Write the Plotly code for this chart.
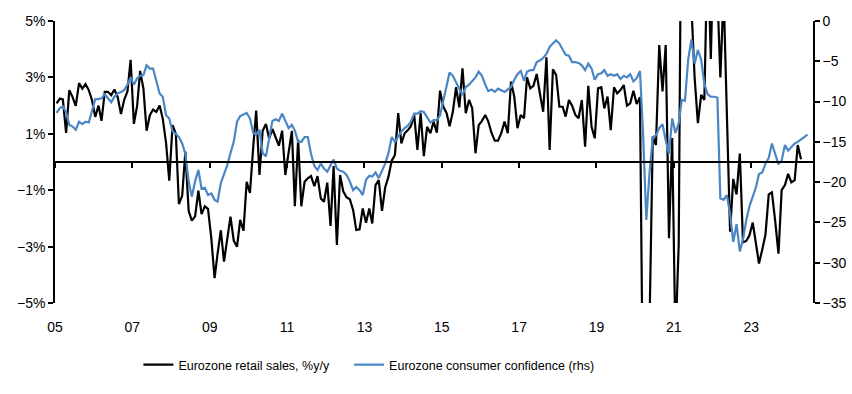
import pandas as pd
import plotly.graph_objects as go

# Eurozone retail sales, % y/y (monthly from Jan 2005)
retail_sales = [
    2.08, 2.25, 2.22, 1.03, 2.55, 2.30, 1.99, 2.80, 2.60, 2.76, 2.55, 2.20,   # 2005
    1.60, 2.00, 1.46, 2.49, 2.49, 2.37, 2.57, 2.30, 1.70, 2.20, 2.50, 3.62,   # 2006
    1.35, 2.00, 3.23, 2.60, 1.11, 1.66, 1.86, 1.78, 2.00, 1.53, 0.67, -0.66,  # 2007
    1.31, 1.00, -1.49, -1.20, 0.37, -1.73, -2.08, -1.93, -1.02, -1.85, -1.57, -1.66,  # 2008
    -2.70, -4.12, -3.26, -2.42, -3.53, -2.70, -1.94, -2.79, -3.00, -2.05, -2.44, -0.70,  # 2009
    -1.10, 0.54, 1.82, -0.46, 1.11, 1.35, 0.84, 1.17, 0.90, 0.58, 1.11, -0.46,  # 2010
    0.33, 1.10, -1.57, 0.80, -1.57, -0.70, -0.58, -0.50, -0.86, -0.50, -1.29, -1.41,  # 2011
    -0.73, -2.27, -0.14, -2.94, -0.46, -1.05, -1.25, -1.32, -1.70, -2.41, -2.39, -1.65,  # 2012
    -2.15, -1.65, -2.18, -0.82, -0.64, -1.73, -0.90, -0.52, 0.05, 0.25, 1.73, 0.66,  # 2013
    1.02, 1.13, 1.27, 1.67, 0.43, 1.73, 0.21, 1.25, 1.02, 1.43, 1.04, 2.53,   # 2014
    1.96, 1.73, 1.27, 1.78, 2.65, 1.94, 3.32, 1.73, 2.20, 1.90, 0.31, 1.31,   # 2015
    1.46, 1.67, 1.43, 1.02, 0.76, 0.76, 1.02, 1.43, 1.02, 2.85, 2.32, 1.20,   # 2016
    1.67, 1.55, 3.00, 2.61, 2.70, 3.12, 2.43, 1.78, 3.71, 0.43, 3.29, 3.09,   # 2017
    1.96, 1.96, 1.61, 2.20, 2.00, 1.67, 1.55, 2.20, 0.54, 2.70, 1.25, 0.84,   # 2018
    2.61, 2.65, 1.90, 2.32, 1.13, 2.65, 2.43, 2.55, 2.73, 2.00, 2.08, 2.53,   # 2019
    2.06, 2.30, -9.00, -20.00, -5.80, 0.90, 0.60, 4.15, 2.50, 4.15, -2.70, 0.85,  # 2020
    -6.40, -2.90, 12.00, 23.90, 9.00, 5.50, 3.00, 1.38, 2.38, 2.20, 7.80, 3.65,  # 2021
    8.40, 6.00, 3.00, 6.00, 1.80, -2.47, -0.60, -1.15, 0.30, -2.85, -2.80, -2.60,  # 2022
    -2.15, -2.90, -3.60, -3.10, -2.58, -1.15, -1.08, -2.10, -3.25, -1.00, -0.82, -0.42,  # 2023
    -0.72, -0.64, 0.60, 0.10,  # 2024
]

# Eurozone consumer confidence (rhs), monthly from Jan 2005
consumer_confidence = [
    -11.4, -10.8, -10.6, -11.3, -12.9, -13.1, -13.5, -12.5, -12.8, -12.5, -12.6, -11.1,  # 2005
    -9.7, -9.7, -9.6, -9.1, -9.6, -10.1, -9.4, -9.0, -8.8, -8.6, -7.9, -7.0,  # 2006
    -7.9, -7.1, -6.8, -6.7, -5.5, -5.9, -5.9, -7.3, -9.0, -9.4, -11.7, -12.1,  # 2007
    -13.7, -14.0, -14.4, -15.2, -16.5, -19.9, -21.8, -19.9, -18.5, -20.8, -20.7, -21.6,  # 2008
    -21.4, -22.2, -22.4, -20.1, -19.1, -17.9, -16.4, -15.0, -12.5, -11.8, -11.6, -11.4,  # 2009
    -12.1, -13.9, -14.1, -13.5, -16.4, -16.8, -14.6, -12.4, -12.2, -12.4, -11.5, -12.4,  # 2010
    -13.3, -12.9, -13.6, -15.0, -15.0, -14.4, -14.4, -16.5, -18.0, -18.5, -17.7, -18.3,  # 2011
    -18.7, -17.9, -17.2, -18.3, -18.6, -18.7, -19.1, -19.9, -21.0, -20.6, -21.0, -21.6,  # 2012
    -19.7, -19.2, -19.3, -18.8, -19.5, -18.6, -17.7, -16.4, -14.4, -15.0, -14.4, -13.7,  # 2013
    -13.3, -13.0, -12.5, -11.5, -11.5, -11.2, -11.3, -11.9, -12.6, -12.3, -12.3, -11.7,  # 2014
    -9.8, -7.7, -6.4, -6.8, -7.7, -8.4, -9.2, -8.2, -7.9, -7.5, -7.0, -6.3,  # 2015
    -6.8, -7.9, -8.7, -8.5, -8.8, -8.4, -8.6, -8.8, -8.5, -8.2, -7.3, -6.6,  # 2016
    -6.2, -7.4, -6.3, -6.1, -6.1, -5.1, -4.9, -4.6, -4.1, -3.2, -2.8, -2.4,  # 2017
    -2.8, -3.6, -4.2, -4.3, -5.1, -5.1, -5.2, -5.5, -6.1, -5.3, -5.9, -7.3,  # 2018
    -6.6, -6.5, -6.1, -6.8, -6.6, -6.8, -6.6, -7.2, -6.8, -7.0, -6.6, -7.5,  # 2019
    -7.1, -6.2, -13.9, -24.7, -18.9, -14.4, -14.2, -13.3, -12.8, -14.8, -16.5, -12.1,  # 2020
    -13.9, -12.7, -9.8, -9.9, -4.8, -2.3, -5.3, -3.6, -4.8, -7.8, -9.1, -9.4,  # 2021
    -9.4, -9.5, -22.0, -22.2, -21.6, -23.9, -27.4, -25.2, -28.6, -27.1, -24.7, -23.0,  # 2022
    -21.8, -20.6, -19.0, -18.8, -17.7, -17.0, -15.2, -16.6, -17.8, -17.3, -15.4, -16.1,  # 2023
    -15.6, -15.2, -15.0, -14.7, -14.4, -14.1,  # 2024
]

left_ticks = [-5, -3, -1, 1, 3, 5]
left_labels = ["\u22125%", "\u22123%", "\u22121%", "1%", "3%", "5%"]
right_ticks = [0, -5, -10, -15, -20, -25, -30, -35]

dates_rs = pd.date_range("2005-01-01", periods=len(retail_sales), freq="MS") + pd.Timedelta(days=15)
dates_cc = pd.date_range("2005-01-01", periods=len(consumer_confidence), freq="MS") + pd.Timedelta(days=15)

FONT = "Liberation Sans, Arial, sans-serif"
BLUE = "#4a86c5"
LEG_FONT = dict(family=FONT, size=12.5, color="black")

fig = go.Figure()
fig.add_trace(go.Scatter(x=dates_rs, y=retail_sales, mode="lines",
                         name="Eurozone retail sales, %y/y",
                         line=dict(color="black", width=2.2), yaxis="y",
                         legend="legend"))
fig.add_trace(go.Scatter(x=dates_cc, y=consumer_confidence, mode="lines",
                         name="Eurozone consumer confidence (rhs)",
                         line=dict(color=BLUE, width=2.2), yaxis="y2",
                         legend="legend2"))
# helper (empty) trace so the zero-line axis is drawn
fig.add_trace(go.Scatter(x=[dates_rs[0]], y=[None], xaxis="x2", yaxis="y",
                         showlegend=False, hoverinfo="skip"))

xrange = ["2005-01-01", "2024-08-07"]

fig.update_layout(
    template="none",
    width=852, height=394,
    margin=dict(l=55, r=39, t=21, b=91, autoexpand=False),
    paper_bgcolor="white", plot_bgcolor="white",
    font=dict(family=FONT, size=14, color="black"),
    showlegend=True,
    legend=dict(orientation="h", x=0.110, xanchor="left", y=-0.22, yanchor="middle",
                font=LEG_FONT, itemwidth=30, bgcolor="rgba(0,0,0,0)", borderwidth=0),
    legend2=dict(orientation="h", x=0.388, xanchor="left", y=-0.22, yanchor="middle",
                 font=LEG_FONT, itemwidth=30, bgcolor="rgba(0,0,0,0)", borderwidth=0),
    xaxis=dict(type="date", range=xrange, tick0="2005-01-01", dtick="M24",
               tickformat="%y", showgrid=False, zeroline=False, showline=False,
               ticks="outside", ticklen=11, tickcolor="rgba(0,0,0,0)",
               tickfont=dict(family=FONT, size=14), automargin=False),
    xaxis2=dict(type="date", matches="x", overlaying="x", anchor="free", position=0.5,
                side="bottom", tick0="2005-01-01", dtick="M24",
                showticklabels=False, showgrid=False, zeroline=False,
                showline=True, linecolor="black", linewidth=1.5,
                ticks="outside", ticklen=5, tickwidth=1.5, tickcolor="black"),
    yaxis=dict(range=[-5, 5], tickvals=left_ticks, ticktext=left_labels,
               showgrid=False, zeroline=False, showline=True, linecolor="black",
               linewidth=1.5, ticks="outside", ticklen=5, tickwidth=1.5,
               tickcolor="black", tickfont=dict(family=FONT, size=14), automargin=False),
    yaxis2=dict(range=[-35, 0], tickvals=right_ticks, overlaying="y", side="right",
                anchor="x", showgrid=False, zeroline=False, showline=True,
                linecolor="black", linewidth=1.5, ticks="outside", ticklen=5,
                tickwidth=1.5, tickcolor="black", tickfont=dict(family=FONT, size=14),
                automargin=False),
)

fig.write_html("out.html", config={"displayModeBar": False},
               post_script="document.body.style.margin='0';")
